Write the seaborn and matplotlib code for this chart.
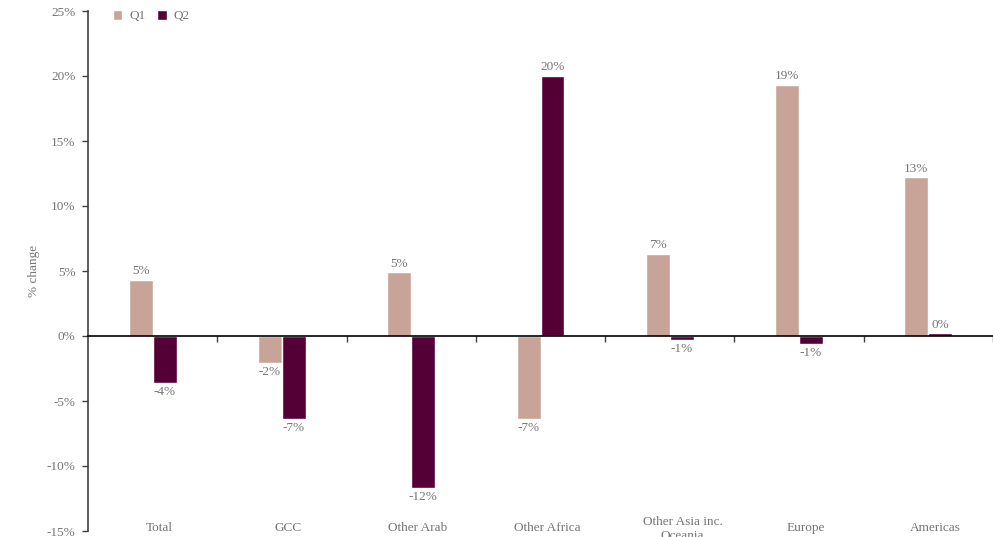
import matplotlib
matplotlib.use("Agg")
import matplotlib.pyplot as plt
import matplotlib.transforms as mtransforms
from matplotlib.ticker import FuncFormatter
import seaborn as sns
import pandas as pd

categories = ["Total", "GCC", "Other Arab", "Other Africa", "Other Asia inc.\nOceania", "Europe", "Americas"]
q1 = [4.3, -2.1, 4.9, -6.4, 6.3, 19.3, 12.2]
q2 = [-3.6, -6.4, -11.7, 20.0, -0.3, -0.6, 0.2]
q1_labels = ["5%", "-2%", "5%", "-7%", "7%", "19%", "13%"]
q2_labels = ["-4%", "-7%", "-12%", "20%", "-1%", "-1%", "0%"]
series = ["Q1", "Q2"]
colors = ["#C8A397", "#540037"]

df = pd.DataFrame({
    "Region": categories * 2,
    "Quarter": ["Q1"] * len(categories) + ["Q2"] * len(categories),
    "Change": q1 + q2,
})

sns.set_style("white")
plt.rcParams["font.family"] = ["Liberation Serif", "DejaVu Serif"]
text_color = "#757575"
fs = 9.5

fig = plt.figure(figsize=(9.93, 5.37), dpi=100)
ax = fig.add_axes([88 / 993, 1 - 531 / 537, (993 - 88) / 993, 520 / 537])

sns.barplot(data=df, x="Region", y="Change", hue="Quarter", order=categories,
            hue_order=series, palette=colors, width=0.37, saturation=1,
            ax=ax, legend=True)

ax.set_ylim(-15, 25)
ax.set_xlim(-0.5, len(categories) - 0.5)
ax.set_yticks(range(-15, 26, 5))
ax.yaxis.set_major_formatter(FuncFormatter(lambda v, p: f"{int(v)}%"))
ax.tick_params(axis="y", direction="out", length=4, width=1, color="#404040",
               labelsize=fs, labelcolor=text_color, pad=5, left=True)
ax.set_ylabel("% change", fontsize=fs, color=text_color, labelpad=5)
ax.set_xlabel("")

for s in ["top", "right"]:
    ax.spines[s].set_visible(False)
ax.spines["left"].set_color("#404040")
ax.spines["left"].set_linewidth(1.2)
ax.spines["bottom"].set_position(("data", 0))
ax.spines["bottom"].set_color("#000000")
ax.spines["bottom"].set_linewidth(1.2)

# category boundary ticks on the zero line
ax.set_xticks([i + 0.5 for i in range(len(categories))], minor=True)
ax.set_xticks(range(len(categories)))
ax.set_xticklabels([])
ax.tick_params(axis="x", which="minor", direction="out", length=4, width=1,
               color="#404040", bottom=True)
ax.tick_params(axis="x", which="major", length=0)

# category labels at the bottom of the plot
trans = mtransforms.blended_transform_factory(ax.transData, ax.transAxes)
for i, c in enumerate(categories):
    if "\n" in c:
        ax.text(i + 0.1, 0.004, c, transform=trans, ha="center", va="center",
                fontsize=fs, color=text_color, linespacing=1.3, clip_on=False)
    else:
        ax.text(i + 0.05, 0.006, c, transform=trans, ha="center", va="center",
                fontsize=fs, color=text_color, clip_on=False)

# value labels
for container, labels in zip(ax.containers, [q1_labels, q2_labels]):
    for bar, lab in zip(container, labels):
        h = bar.get_height()
        x = bar.get_x() + bar.get_width() / 2
        if h >= 0:
            ax.annotate(lab, (x, h), xytext=(0, 2), textcoords="offset points",
                        ha="center", va="bottom", fontsize=fs, color=text_color)
        else:
            ax.annotate(lab, (x, h), xytext=(0, -2), textcoords="offset points",
                        ha="center", va="top", fontsize=fs, color=text_color)

leg = ax.legend(loc="upper left", bbox_to_anchor=(0.014, 1.025), ncol=2, frameon=False,
                fontsize=fs, handlelength=0.75, handleheight=0.75, handletextpad=0.5,
                columnspacing=0.9)
for t in leg.get_texts():
    t.set_color(text_color)

fig.savefig("out.png", dpi=100)
